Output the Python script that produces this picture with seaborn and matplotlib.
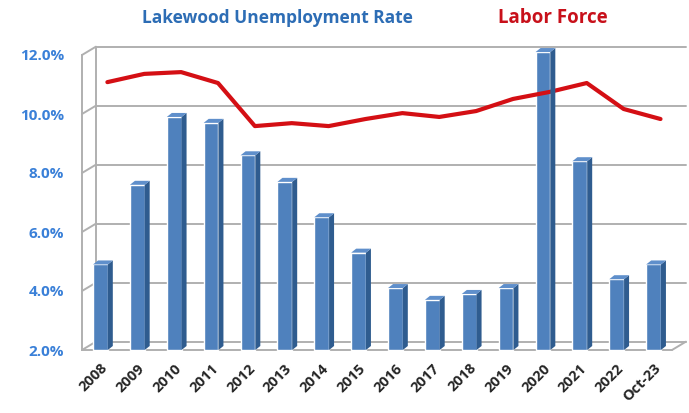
import numpy as np
import pandas as pd
import seaborn as sns
import matplotlib.pyplot as plt
from matplotlib.transforms import ScaledTranslation
from matplotlib.patches import Polygon

# data
years = ["2008", "2009", "2010", "2011", "2012", "2013", "2014", "2015",
         "2016", "2017", "2018", "2019", "2020", "2021", "2022", "Oct-23"]
unemployment = [4.9, 7.6, 9.9, 9.7, 8.6, 7.7, 6.5, 5.3,
                4.1, 3.7, 3.9, 4.1, 12.1, 8.4, 4.4, 4.9]
# labor force line, in the position it takes on the (hidden) secondary scale
labor_force = [11.08, 11.36, 11.42, 11.05, 9.59, 9.69, 9.59, 9.83,
               10.03, 9.90, 10.10, 10.51, 10.75, 11.05, 10.17, 9.83]
yticks = [2, 4, 6, 8, 10, 12]

df = pd.DataFrame({"year": years, "rate": unemployment, "labor": labor_force})

sns.set_style("white")
plt.rcParams["font.family"] = ["Open Sans", "DejaVu Sans"]

fig = plt.figure(figsize=(6.89, 4.13), dpi=100)
ax = fig.add_axes([82 / 689, 63 / 413, 590 / 689, 295 / 413])

blue = "#4f81bd"
side = "#2f5c8f"
topc = "#5f8fcb"
grid = "#b0b0b0"

# back wall offset (pixels) for the fake 3D look
dx, dy = 10 / 72, 6 / 72
back = ax.transData + ScaledTranslation(dx, dy, fig.dpi_scale_trans)

n = len(years)
ax.set_xlim(-0.5, n - 0.5)
ax.set_ylim(2, 12)

for t in yticks:
    ax.plot([-0.5, n - 0.5], [t, t], color=grid, lw=1.4,
            transform=back, clip_on=False, zorder=0)
    # connector from front axis to back wall
    p0 = ax.transData.transform((-0.5, t))
    p1 = back.transform((-0.5, t))
    ax.plot([p0[0], p1[0]], [p0[1], p1[1]], color=grid, lw=1.4,
            transform=None, clip_on=False, zorder=0)
# left back wall edge and floor
ax.plot([-0.5, -0.5], [2, 12], color=grid, lw=1.4, transform=back,
        clip_on=False, zorder=0)
ax.plot([-0.5, n - 0.5], [2, 2], color=grid, lw=1.4,
        clip_on=False, zorder=0)
q0 = ax.transData.transform((n - 0.5, 2))
q1 = back.transform((n - 0.5, 2))
ax.plot([q0[0], q1[0]], [q0[1], q1[1]], color=grid, lw=1.4,
        transform=None, clip_on=False, zorder=0)

sns.barplot(data=df, x="year", y="rate", color=blue, width=0.4,
            saturation=1, ax=ax, zorder=2)

# side and top faces of the bars
ddx, ddy = 5, 4
for p in ax.patches:
    x0, y0 = p.get_x(), 2
    x1, y1 = p.get_x() + p.get_width(), p.get_height()
    p.set_y(2)
    p.set_height(y1 - 2)
    p.set_clip_on(False)
    a = ax.transData.transform((x0, y1))
    b = ax.transData.transform((x1, y1))
    c = ax.transData.transform((x1, y0))
    sidep = Polygon([c, b, b + [ddx, ddy], c + [ddx, ddy]], closed=True,
                    facecolor=side, edgecolor="none", transform=None,
                    zorder=2, clip_on=False)
    topp = Polygon([a, b, b + [ddx, ddy], a + [ddx, ddy]], closed=True,
                   facecolor=topc, edgecolor="none", transform=None,
                   zorder=2, clip_on=False)
    fig.add_artist(sidep)
    fig.add_artist(topp)

sns.lineplot(data=df, x="year", y="labor", color="#d40f14", lw=3,
             ax=ax, zorder=3, sort=False)
ax.lines[-1].set_transform(ax.transData + ScaledTranslation(5 / 72, 0, fig.dpi_scale_trans))

ax.set_yticks(yticks)
ax.set_yticklabels([f"{t:.1f}%" for t in yticks], color="#3a80d8",
                   fontweight="bold", fontsize=11)
ax.set_xticks(range(n))
ax.set_xticklabels(years, rotation=45, ha="right", rotation_mode="anchor",
                   fontweight="bold", fontsize=10.5)
ax.set_xticks(np.arange(-0.5, n, 1), minor=True)
ax.tick_params(axis="y", length=5, color=grid, pad=8)
ax.tick_params(axis="x", which="major", length=0, pad=8)
ax.tick_params(axis="x", which="minor", length=4, color=grid, width=1.2)
ax.set_xlabel("")
ax.set_ylabel("")
for s in ["top", "right", "bottom"]:
    ax.spines[s].set_visible(False)
ax.spines["left"].set_color(grid)
ax.spines["left"].set_linewidth(1.4)

fig.text(277 / 689, 1 - 18 / 413, "Lakewood Unemployment Rate", color="#2d6db5",
         fontsize=12.5, fontweight="bold", ha="center", va="center")
fig.text(553 / 689, 1 - 18 / 413, "Labor Force", color="#c8101a",
         fontsize=13.5, fontweight="bold", ha="center", va="center")

fig.savefig("out.png", dpi=100)
